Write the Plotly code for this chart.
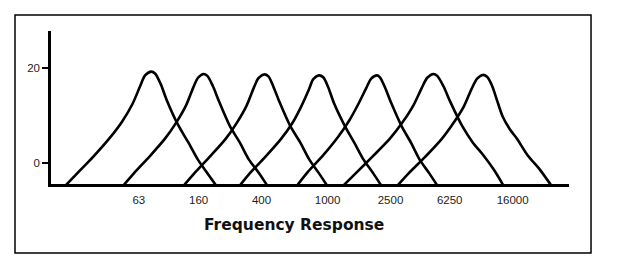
import plotly.graph_objects as go

# band position units: label "63" at 0, each label step ~1
tick_pos = [0, 0.96, 1.97, 3.03, 4.04, 4.99, 6.0]
tick_labels = ["63", "160", "400", "1000", "2500", "6250", "16000"]

c1_x = [-1.19, -0.99, -0.73, -0.47, -0.27, -0.10, 0.02, 0.10, 0.20, 0.26, 0.35, 0.45, 0.63, 0.79, 0.95, 1.10, 1.25]
c1_y = [-5, -2.25, 1.3, 5.2, 8.7, 12.5, 16.2, 18.5, 19.3, 18.9, 16.7, 13.2, 8.0, 4.4, 0.6, -2.2, -5]

c2_x = [-0.26, -0.08, 0.17, 0.42, 0.60, 0.76, 0.87, 0.95, 1.04, 1.10, 1.19, 1.29, 1.46, 1.62, 1.77, 1.93, 2.07]
c2_y = [-5, -2.25, 1.3, 5.1, 8.5, 12.2, 15.8, 18.0, 18.8, 18.4, 16.2, 12.9, 7.8, 4.3, 0.6, -2.2, -5]

c3_x = [0.71, 0.89, 1.14, 1.39, 1.57, 1.73, 1.84, 1.92, 2.01, 2.08, 2.16, 2.26, 2.43, 2.59, 2.74, 2.89, 3.03]
c3_y = [-5, -2.25, 1.3, 5.0, 8.4, 12.1, 15.7, 17.9, 18.7, 18.3, 16.1, 12.8, 7.8, 4.3, 0.6, -2.2, -5]

c4_x = [1.61, 1.78, 2.03, 2.28, 2.46, 2.61, 2.73, 2.80, 2.89, 2.96, 3.04, 3.13, 3.31, 3.46, 3.61, 3.76, 3.90]
c4_y = [-5, -2.25, 1.25, 5.0, 8.3, 12.0, 15.5, 17.7, 18.5, 18.1, 16.0, 12.7, 7.7, 4.2, 0.6, -2.2, -5]

c5_x = [2.53, 2.71, 2.96, 3.20, 3.38, 3.53, 3.65, 3.73, 3.82, 3.87, 3.95, 4.05, 4.22, 4.37, 4.51, 4.66, 4.80]
c5_y = [-5, -2.0, 1.6, 5.5, 9.0, 12.6, 15.8, 17.8, 18.5, 18.1, 16.0, 12.7, 7.7, 4.2, 0.6, -2.2, -5]

c6_x = [3.27, 3.48, 3.75, 4.03, 4.23, 4.41, 4.54, 4.63, 4.73, 4.79, 4.89, 5.00, 5.19, 5.36, 5.53, 5.70, 5.86]
c6_y = [-5, -2.25, 1.3, 5.1, 8.5, 12.2, 15.8, 18.0, 18.8, 18.4, 16.2, 12.9, 7.8, 4.3, 1.6, -1.5, -5]

c7_x = [4.14, 4.33, 4.60, 4.86, 5.05, 5.22, 5.34, 5.43, 5.52, 5.59, 5.67, 5.75, 5.84, 5.96, 6.07, 6.24, 6.44, 6.63]
c7_y = [-5, -2.25, 1.3, 5.0, 8.4, 12.0, 15.6, 17.8, 18.6, 18.2, 16.3, 13.2, 9.8, 7.0, 5.1, 1.6, -1.5, -5]

curves = [(c1_x, c1_y), (c2_x, c2_y), (c3_x, c3_y), (c4_x, c4_y),
          (c5_x, c5_y), (c6_x, c6_y), (c7_x, c7_y)]

y_ticks = [0, 20]
y_tick_labels = ["0", "20"]
title_text = "Frequency Response"

fig = go.Figure()
for cx, cy in curves:
    fig.add_trace(go.Scatter(x=cx, y=cy, mode="lines",
                             line=dict(color="black", width=2.6, shape="spline", smoothing=0.8),
                             hoverinfo="skip", showlegend=False))

x_range = [-1.41, 6.905]
y_range = [-4.5, 27.9]

fig.update_layout(
    width=625, height=271,
    margin=dict(l=51, r=56, t=31, b=87),
    paper_bgcolor="white", plot_bgcolor="white",
    showlegend=False,
    xaxis=dict(range=x_range, showgrid=False, zeroline=False,
               showline=True, linecolor="black", linewidth=3,
               tickmode="array", tickvals=tick_pos, ticktext=tick_labels,
               ticks="", ticklabelstandoff=3,
               tickfont=dict(family="Liberation Sans, Arial", size=11.5, color="#222")),
    yaxis=dict(range=y_range, showgrid=False, zeroline=False,
               showline=True, linecolor="black", linewidth=2.5,
               tickmode="array", tickvals=y_ticks, ticktext=y_tick_labels,
               ticks="outside", ticklen=6, tickwidth=2, tickcolor="black",
               tickfont=dict(family="Liberation Sans, Arial", size=11.5, color="#222")),
    yaxis2=dict(range=y_range, overlaying="y", anchor="x", side="left",
                showgrid=False, zeroline=False, showline=False,
                tickmode="array", tickvals=y_ticks, showticklabels=False,
                ticks="inside", ticklen=10, tickwidth=2, tickcolor="black"),
    annotations=[dict(text=title_text, xref="paper", yref="paper",
                      x=0.469, y=-0.268, xanchor="center", yanchor="middle",
                      showarrow=False,
                      font=dict(family="DejaVu Sans", size=15.5, color="#111", weight="bold"))],
    shapes=[dict(type="rect", xref="paper", yref="paper",
                 x0=-0.0695, x1=1.0425, y0=-0.451, y1=1.1046,
                 line=dict(color="black", width=1.5), fillcolor="rgba(0,0,0,0)")],
)

fig.write_html("out.html", config={"displayModeBar": False})
